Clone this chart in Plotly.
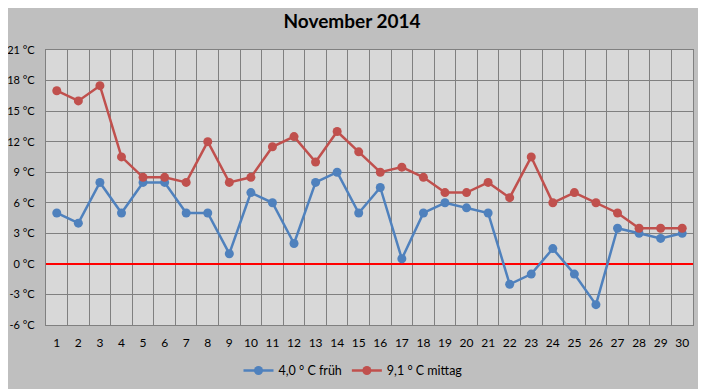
import plotly.graph_objects as go

days = [str(d) for d in range(1, 31)]
frueh = [5, 4, 8, 5, 8, 8, 5, 5, 1, 7, 6, 2, 8, 9, 5, 7.5, 0.5, 5, 6, 5.5,
         5, -2, -1, 1.5, -1, -4, 3.5, 3, 2.5, 3]
mittag = [17, 16, 17.5, 10.5, 8.5, 8.5, 8, 12, 8, 8.5, 11.5, 12.5, 10, 13, 11,
          9, 9.5, 8.5, 7, 7, 8, 6.5, 10.5, 6, 7, 6, 5, 3.5, 3.5, 3.5]
names = ["4,0 ° C früh", "9,1 ° C mittag"]
y_ticks = list(range(-6, 22, 3))
y_labels = [f"{v} °C" for v in y_ticks]

blue = "#4F81BD"
red = "#C0504D"
font = "Lato, Liberation Sans, sans-serif"

fig = go.Figure()
fig.add_trace(go.Scatter(x=days, y=frueh, name=names[0], mode="lines+markers",
                         line=dict(color=blue, width=2.5),
                         marker=dict(color=blue, size=9)))
fig.add_trace(go.Scatter(x=days, y=mittag, name=names[1], mode="lines+markers",
                         line=dict(color=red, width=2.5),
                         marker=dict(color=red, size=9)))

# the page body adds an 8px offset; margins compensate for it
fig.update_layout(
    width=706, height=389,
    paper_bgcolor="#BFBFBF", plot_bgcolor="#D8D8D8",
    margin=dict(l=38, r=21, t=42, b=72, autoexpand=False),
    title=dict(text="<b>November 2014</b>", x=0.4873, xanchor="center",
               y=0.9666, yanchor="middle",
               font=dict(family=font, size=19, color="#000000")),
    font=dict(family=font, size=12, color="#000000"),
    showlegend=True,
    legend=dict(orientation="h", x=0.4745, xanchor="center", y=-0.167,
                yanchor="middle", bgcolor="rgba(0,0,0,0)", itemwidth=30,
                font=dict(family=font, size=12.5)),
)
fig.update_xaxes(type="category", range=[-0.5, 29.5], tickson="boundaries",
                 showgrid=True, gridcolor="#808080", gridwidth=1.3,
                 showline=True, linecolor="#808080", linewidth=1.3, mirror=True,
                 ticks="", tickangle=0, automargin=False,
                 tickfont=dict(size=12), ticklabelstandoff=6)
fig.update_yaxes(range=[-6, 21], tickvals=y_ticks, ticktext=y_labels,
                 showgrid=True, gridcolor="#808080", gridwidth=1.3,
                 showline=True, linecolor="#808080", linewidth=1.3, mirror=True,
                 zeroline=True, zerolinecolor="#FF0000", zerolinewidth=1.5,
                 ticks="", automargin=False, tickfont=dict(size=11),
                 ticklabelstandoff=8)

fig.write_html("out.html")
